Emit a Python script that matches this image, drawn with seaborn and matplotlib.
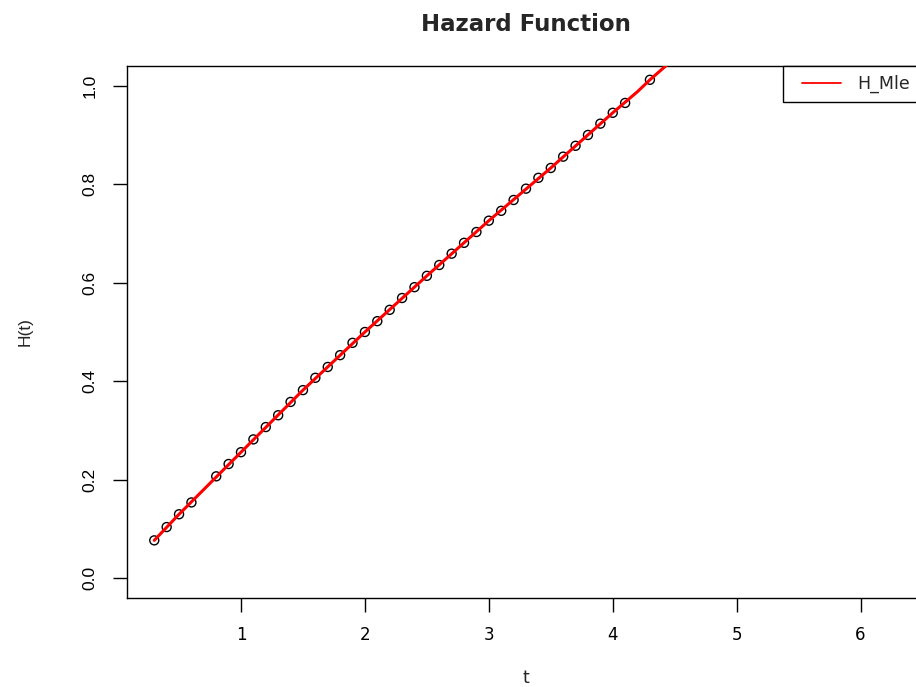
import numpy as np
import pandas as pd
import matplotlib
matplotlib.use("Agg")
import matplotlib.pyplot as plt
from matplotlib.legend_handler import HandlerLine2D
from matplotlib.lines import Line2D
import seaborn as sns

# Observed points (circles)
t_points = [0.3, 0.4, 0.5, 0.6, 0.8, 0.9, 1.0, 1.1, 1.2, 1.3, 1.4, 1.5, 1.6, 1.7,
            1.8, 1.9, 2.0, 2.1, 2.2, 2.3, 2.4, 2.5, 2.6, 2.7, 2.8, 2.9, 3.0, 3.1,
            3.2, 3.3, 3.4, 3.5, 3.6, 3.7, 3.8, 3.9, 4.0, 4.1, 4.3]
h_points = [0.077, 0.104, 0.130, 0.154, 0.207, 0.232, 0.256, 0.282, 0.307, 0.331,
            0.358, 0.382, 0.407, 0.429, 0.453, 0.478, 0.500, 0.522, 0.545, 0.569,
            0.591, 0.614, 0.636, 0.659, 0.681, 0.703, 0.726, 0.746, 0.768, 0.791,
            0.813, 0.833, 0.856, 0.878, 0.900, 0.923, 0.945, 0.965, 1.012]

# Fitted MLE hazard curve (red line)
t_line = [0.3, 0.5, 1.0, 1.5, 2.0, 2.5, 3.0, 3.5, 4.0, 4.2, 4.3, 4.5]
h_line = [0.077, 0.130, 0.256, 0.382, 0.500, 0.614, 0.726, 0.833, 0.945, 0.988, 1.012, 1.056]

x_ticks = [1, 2, 3, 4, 5, 6]
y_ticks = [0.0, 0.2, 0.4, 0.6, 0.8, 1.0]
y_tick_labels = ["0.0", "0.2", "0.4", "0.6", "0.8", "1.0"]

sns.set_style("white")
plt.rcParams['font.family'] = ['Liberation Sans', 'DejaVu Sans']

W, H = 916, 687
fig = plt.figure(figsize=(W / 100, H / 100), dpi=100)
left_px, right_px, top_px, bot_px = 127, 925, 66, 598
ax = fig.add_axes([left_px / W, (H - bot_px) / H, (right_px - left_px) / W, (bot_px - top_px) / H])

pts = pd.DataFrame({"t": t_points, "H": h_points})
line = pd.DataFrame({"t": t_line, "H": h_line})

sns.scatterplot(data=pts, x="t", y="H", ax=ax, marker="o", s=42,
                facecolors="none", edgecolor="black", linewidth=1.0, zorder=2)
sns.lineplot(data=line, x="t", y="H", ax=ax, color="red", linewidth=2.2,
             label="H_Mle", zorder=3)

ax.set_xlim(0.08, 6.52)
ax.set_ylim(-0.04, 1.04)
ax.set_xticks(x_ticks)
ax.set_xticklabels([str(v) for v in x_ticks])
ax.set_yticks(y_ticks)
ax.set_yticklabels(y_tick_labels, rotation=90, va="center")

for s in ax.spines.values():
    s.set_visible(True)
    s.set_color("black")
    s.set_linewidth(1.0)

ax.tick_params(axis="both", which="major", direction="out", length=10, width=1.0,
               color="black", labelsize=12.5, labelcolor="black", bottom=True, left=True)
ax.tick_params(axis="x", pad=10)
ax.tick_params(axis="y", pad=11)
for lab in ax.get_xticklabels():
    lab.set_family(['DejaVu Sans'])
    lab.set_fontsize(12)

ax.set_xlabel("t", fontsize=12.5, labelpad=18, family=['DejaVu Sans'])
ax.set_ylabel("H(t)", fontsize=12.5, labelpad=36)
ax.set_title("Hazard Function", fontsize=16.5, fontweight="bold", pad=25,
             family=['DejaVu Sans'])

bx = (783 - left_px) / (right_px - left_px)
handles, labels = ax.get_legend_handles_labels()
leg = ax.legend(handles, labels, loc="upper left", bbox_to_anchor=(bx, 1.0), borderaxespad=0,
                frameon=True, fancybox=False, handlelength=2.85,
                handletextpad=0.9, borderpad=0.5,
                prop={'family': ['DejaVu Sans'], 'size': 12.5},
                handler_map={Line2D: HandlerLine2D(xpad=0.6)})
leg.get_frame().set_edgecolor("black")
leg.get_frame().set_linewidth(1.0)
leg.get_frame().set_alpha(1.0)
for ln in leg.get_lines():
    ln.set_linewidth(1.3)

fig.savefig("out.png", dpi=100)
